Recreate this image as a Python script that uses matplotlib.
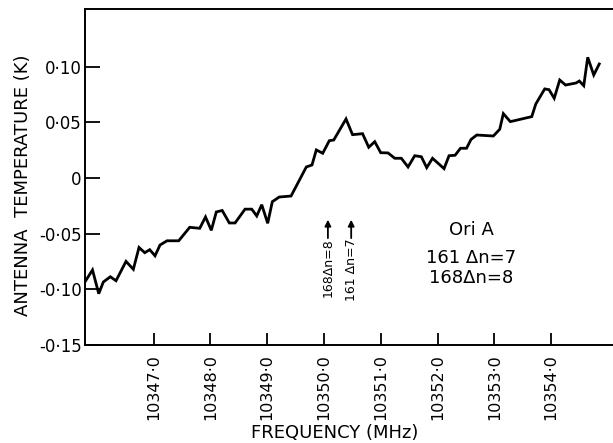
import matplotlib
matplotlib.use("Agg")
import matplotlib.pyplot as plt

# spectrum (MHz, K)
freq = [10345.793, 10345.925, 10346.035, 10346.116, 10346.239, 10346.339, 10346.515,
        10346.644, 10346.744, 10346.845, 10346.933, 10347.026, 10347.114, 10347.237,
        10347.443, 10347.637, 10347.813, 10347.915, 10348.017, 10348.105, 10348.209,
        10348.334, 10348.435, 10348.611, 10348.729, 10348.817, 10348.905, 10349.010,
        10349.091, 10349.213, 10349.421, 10349.690, 10349.790, 10349.866, 10349.979,
        10350.095, 10350.173, 10350.389, 10350.504, 10350.680, 10350.789, 10350.895,
        10351.000, 10351.129, 10351.247, 10351.363, 10351.481, 10351.599, 10351.715,
        10351.810, 10351.912, 10352.115, 10352.203, 10352.309, 10352.405, 10352.511,
        10352.590, 10352.691, 10352.983, 10353.096, 10353.159, 10353.282, 10353.659,
        10353.731, 10353.888, 10353.964, 10354.055, 10354.152, 10354.254, 10354.439,
        10354.497, 10354.575, 10354.645, 10354.751, 10354.848]
temp = [-0.0932, -0.0826, -0.1039, -0.0934, -0.0887, -0.0923, -0.0749,
        -0.0820, -0.0624, -0.0671, -0.0644, -0.0699, -0.0602, -0.0564,
        -0.0564, -0.0443, -0.0452, -0.0350, -0.0470, -0.0305, -0.0292,
        -0.0404, -0.0404, -0.0280, -0.0280, -0.0341, -0.0240, -0.0407,
        -0.0213, -0.0171, -0.0162, 0.0099, 0.0117, 0.0252, 0.0222,
        0.0335, 0.0341, 0.0530, 0.0389, 0.0398, 0.0276, 0.0326,
        0.0227, 0.0225, 0.0177, 0.0177, 0.0099, 0.0200, 0.0191,
        0.0093, 0.0177, 0.0084, 0.0200, 0.0204, 0.0267, 0.0267,
        0.0346, 0.0386, 0.0377, 0.0438, 0.0578, 0.0506, 0.0551,
        0.0665, 0.0800, 0.0793, 0.0716, 0.0880, 0.0835, 0.0853,
        0.0871, 0.0829, 0.1084, 0.0925, 0.1024]

xticks = [10347.0, 10348.0, 10349.0, 10350.0, 10351.0, 10352.0, 10353.0, 10354.0]
xtick_labels = ["10347·0", "10348·0", "10349·0", "10350·0",
                "10351·0", "10352·0", "10353·0", "10354·0"]
yticks = [0.10, 0.05, 0.0, -0.05, -0.10, -0.15]
ytick_labels = ["0·10", "0·05", "0", "-0·05", "-0·10", "-0·15"]

# expected recombination line positions
line_freqs = [10350.07, 10350.48]
line_labels = ["168\u0394n=8", "161 \u0394n=7"]

key_lines = ["Ori A", "161 \u0394n=7", "168\u0394n=8"]

W, H = 613, 443
fig = plt.figure(figsize=(W / 100, H / 100), dpi=100)
ax = fig.add_axes([85 / W, 98 / H, 528 / W, 335.7 / H])

ax.plot(freq, temp, color="black", lw=2.0, solid_joinstyle="miter")

ax.set_xlim(10345.793, 10355.09)
ax.set_ylim(-0.15, 0.1515)

ax.set_xticks(xticks)
ax.set_xticklabels(xtick_labels, rotation=90)
ax.set_yticks(yticks)
ax.set_yticklabels(ytick_labels)
ax.tick_params(axis="x", direction="in", length=9, width=1.3, pad=6.5, labelsize=11.5)
ax.tick_params(axis="y", direction="in", length=10.5, width=1.3, pad=2.4, labelsize=12)

ax.spines["right"].set_visible(False)
for s in ["left", "top", "bottom"]:
    ax.spines[s].set_linewidth(1.4)

for f, lab in zip(line_freqs, line_labels):
    ax.annotate("", xy=(f, -0.0375), xytext=(f, -0.054),
                arrowprops=dict(arrowstyle="-|>", lw=1.3, color="black",
                                mutation_scale=9, shrinkA=0, shrinkB=0))
    ax.text(f, -0.0545, lab, rotation=90, ha="center", va="top", fontsize=9)

for t, yv in zip(key_lines, [-0.0467, -0.0719, -0.0898]):
    ax.text(10352.59, yv, t, ha="center", va="center", fontsize=13)

fig.text(335 / W, 0.5 / H, "FREQUENCY (MHz)", ha="center", va="bottom", fontsize=13)
fig.text(23 / W, 1 - 185 / H, "ANTENNA  TEMPERATURE (K)", rotation=90,
         ha="center", va="center", fontsize=13)

fig.savefig("out.png", dpi=100)
